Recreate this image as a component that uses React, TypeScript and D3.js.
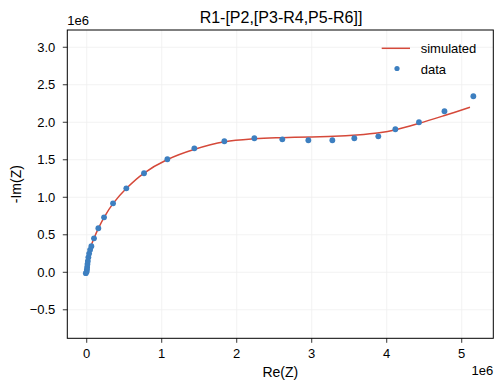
import React from "react";
import * as d3 from "d3";

const title = "R1-[P2,[P3-R4,P5-R6]]";
const xTicks = [0, 1, 2, 3, 4, 5];
const yTicks = [-0.5, 0, 0.5, 1.0, 1.5, 2.0, 2.5, 3.0];

// data (units of 1e6)
const dataRe = [-0.012, 0.0, 0.003, 0.006, 0.01, 0.015, 0.022, 0.032, 0.045, 0.062, 0.097, 0.155, 0.231, 0.351, 0.528, 0.764, 1.075, 1.435, 1.835, 2.235, 2.608, 2.955, 3.275, 3.568, 3.888, 4.115, 4.43, 4.77, 5.155];
const dataIm = [-0.012, 0.01, 0.04, 0.07, 0.11, 0.15, 0.2, 0.25, 0.3, 0.347, 0.453, 0.587, 0.733, 0.92, 1.12, 1.32, 1.507, 1.653, 1.747, 1.787, 1.773, 1.76, 1.76, 1.787, 1.813, 1.907, 2.0, 2.147, 2.347];

// simulated curve (units of 1e6)
const simRe = [0, 0.004, 0.012, 0.03, 0.06, 0.1, 0.155, 0.23, 0.35, 0.53, 0.76, 1.07, 1.44, 1.84, 2.24, 2.6, 3.0, 3.3, 3.6, 3.9, 4.12, 4.43, 4.77, 5.11];
const simIm = [0, 0.08, 0.17, 0.27, 0.36, 0.46, 0.585, 0.73, 0.915, 1.12, 1.32, 1.5, 1.64, 1.74, 1.78, 1.795, 1.805, 1.812, 1.83, 1.86, 1.9, 1.985, 2.09, 2.2];

const W = 502, H = 391;
const left = 67.3, right = 493.3, top = 30, bottom = 338.3;
const font = "'Liberation Sans', Arial, Helvetica, sans-serif";

export default function App() {
  const x = d3.scaleLinear().domain([-0.259, 5.421]).range([left, right]);
  const y = d3.scaleLinear().domain([-0.88, 3.23]).range([bottom, top]);
  const simPts: [number, number][] = simRe.map((r, i) => [r, simIm[i]]);
  const line = d3.line<[number, number]>().x(d => x(d[0])).y(d => y(d[1])).curve(d3.curveCatmullRom.alpha(0.5));
  const red = "#d5493a";
  const blue = "#3d7fc0";
  return (
    <svg width={W} height={H} style={{ position: "absolute", left: 0, top: 0, background: "#fff" }} fontFamily={font}>
      <rect x={0} y={0} width={W} height={H} fill="#fff" />
      <defs>
        <clipPath id="clip"><rect x={left} y={top} width={right - left} height={bottom - top} /></clipPath>
      </defs>
      {xTicks.map(t => (
        <line key={"gx" + t} x1={x(t)} x2={x(t)} y1={top} y2={bottom} stroke="#efefef" strokeWidth={0.8} />
      ))}
      {yTicks.map(t => (
        <line key={"gy" + t} x1={left} x2={right} y1={y(t)} y2={y(t)} stroke="#efefef" strokeWidth={0.8} />
      ))}
      <g clipPath="url(#clip)">
        <path d={line(simPts) || ""} fill="none" stroke={red} strokeWidth={1.5} />
        {dataRe.map((r, i) => (
          <circle key={i} cx={x(r)} cy={y(dataIm[i])} r={2.9} fill={blue} />
        ))}
      </g>
      <rect x={left} y={top} width={right - left} height={bottom - top} fill="none" stroke="#000" strokeWidth={1} />
      {xTicks.map(t => (
        <g key={"tx" + t}>
          <line x1={x(t)} x2={x(t)} y1={bottom} y2={bottom + 4.5} stroke="#000" strokeWidth={0.8} />
          <text x={x(t)} y={bottom + 20} fontSize={13} textAnchor="middle" fill="#000">{String(t)}</text>
        </g>
      ))}
      {yTicks.map(t => (
        <g key={"ty" + t}>
          <line x1={left - 4.5} x2={left} y1={y(t)} y2={y(t)} stroke="#000" strokeWidth={0.8} />
          <text x={left - 12} y={y(t) + 4.7} fontSize={13} textAnchor="end" fill="#000">{t < 0 ? "\u2212" + Math.abs(t).toFixed(1) : t.toFixed(1)}</text>
        </g>
      ))}
      <text x={left} y={top - 5} fontSize={13} fill="#000">1e6</text>
      <text x={right} y={bottom + 37} fontSize={13} textAnchor="end" fill="#000">1e6</text>
      <text x={281} y={22.7} fontSize={16} textAnchor="middle" fill="#000">{title}</text>
      <text x={(left + right) / 2} y={bottom + 39} fontSize={14} textAnchor="middle" fill="#000">Re(Z)</text>
      <text transform={`translate(21,${(top + bottom) / 2}) rotate(-90)`} fontSize={14} textAnchor="middle" fill="#000">-Im(Z)</text>
      <line x1={381.7} x2={410} y1={48.3} y2={48.3} stroke={red} strokeWidth={1.5} />
      <text x={420.7} y={53.3} fontSize={13} fill="#000">simulated</text>
      <circle cx={397} cy={68.5} r={2.6} fill={blue} />
      <text x={420.7} y={73.5} fontSize={13} fill="#000">data</text>
    </svg>
  );
}
